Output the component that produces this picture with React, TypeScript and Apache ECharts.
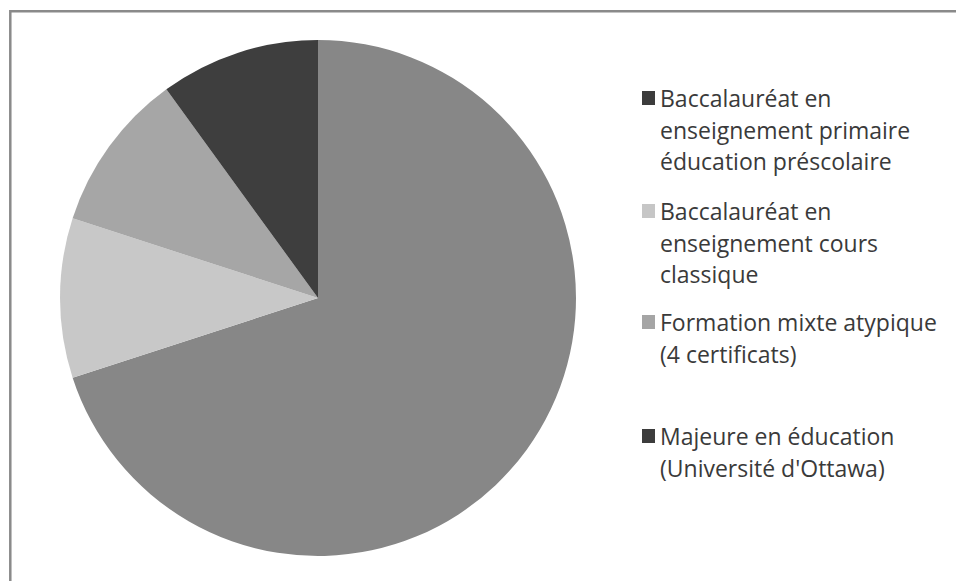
import React, { useEffect, useRef } from "react";
import * as echarts from "echarts";

const categories = [
  "Baccalauréat en enseignement primaire éducation préscolaire",
  "Baccalauréat en enseignement cours classique",
  "Formation mixte atypique (4 certificats)",
  "Majeure en éducation (Université d'Ottawa)",
];
const labelLines = [
  ["Baccalauréat en", "enseignement primaire", "éducation préscolaire"],
  ["Baccalauréat en", "enseignement cours", "classique"],
  ["Formation mixte atypique", "(4 certificats)"],
  ["Majeure en éducation", "(Université d'Ottawa)"],
];
const values = [70, 10, 10, 10];
const sliceColors = ["#878787", "#c8c8c8", "#a6a6a6", "#3e3e3e"];
const legendColors = ["#3c3c3c", "#c6c6c6", "#a5a5a5", "#3c3c3c"];
const legendIconTops = [91, 204, 315, 429];

export default function App() {
  const ref = useRef<HTMLDivElement>(null);
  useEffect(() => {
    if (!ref.current) return;
    const chart = echarts.init(ref.current, undefined, { renderer: "svg" });
    const lh = 31.5;
    const iconH = 14;
    const legends = categories.map((name, i) => {
      const n = labelLines[i].length;
      const blanks = new Array(n - 1).fill(" ");
      const boxH = (2 * n - 1) * lh;
      const offset = boxH / 2 - iconH / 2;
      return {
        data: [{ name, itemStyle: { color: legendColors[i] } }],
        left: 642,
        top: legendIconTops[i] - offset,
        orient: "vertical",
        padding: 0,
        itemWidth: 13,
        itemHeight: iconH,
        itemGap: 0,
        icon: "rect",
        selectedMode: false,
        formatter: () => [...blanks, ...labelLines[i]].join("\n"),
        textStyle: {
          fontFamily: "Open Sans",
          fontSize: 23,
          color: "#3a3a3a",
          lineHeight: lh,
        },
      };
    });
    chart.setOption({
      animation: false,
      backgroundColor: "#ffffff",
      legend: legends,
      graphic: [
        {
          type: "rect",
          shape: { x: 10.3, y: 11.3, width: 1000, height: 700 },
          style: { fill: "none", stroke: "#8a8a8a", lineWidth: 2.5 },
          silent: true,
        },
      ],
      series: [
        {
          type: "pie",
          center: [318, 298],
          radius: 258,
          startAngle: 90,
          clockwise: true,
          label: { show: false },
          labelLine: { show: false },
          emphasis: { disabled: true },
          itemStyle: { borderWidth: 0 },
          data: categories.map((name, i) => ({
            name,
            value: values[i],
            itemStyle: { color: sliceColors[i] },
          })),
        },
      ],
    });
    return () => chart.dispose();
  }, []);
  return (
    <div
      ref={ref}
      style={{ position: "absolute", left: 0, top: 0, width: 956, height: 581 }}
    />
  );
}
